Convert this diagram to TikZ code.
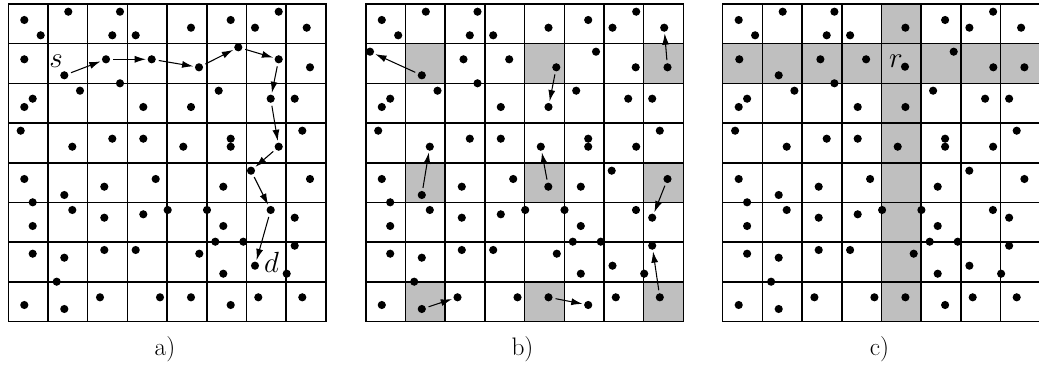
\documentclass[tikz,border=0pt]{standalone}
\usetikzlibrary{arrows.meta}
\tikzset{
  dot/.style={circle, fill=black, inner sep=0pt, minimum size=5.8pt},
  gridline/.style={line width=1.05pt, line cap=rect},
  shadecell/.style={fill=black!25, draw=none},
  arr/.style={line width=0.75pt, -{Latex[length=8pt,width=5pt]}, shorten <=2pt, shorten >=1pt},
  lab/.style={font=\fontsize{18}{20}\selectfont, inner sep=0pt},
  mlab/.style={font=\fontsize{20}{22}\selectfont, inner sep=0pt}
}
\newcommand\drawgrid{%
  \foreach \i in {0,...,8}{%
    \draw[gridline] (8.3+39.7*\i,4) -- (8.3+39.7*\i,321.6);
    \draw[gridline] (8.3,4+39.7*\i) -- (325.9,4+39.7*\i);
  }}
\newcommand\shadecellat[2]{\fill[shadecell] (8.3+39.7*#1,4+39.7*#2) rectangle ++(39.7,39.7);}
\newcommand\putdots[1]{%
  \foreach \x/\y/\n in {
    24.3/20/p00, 40.7/35.3/p01, 68.3/11.7/p02, 120/11.7/p03, 112.3/35.3/p04, 135.7/35.3/p05,
    191/27.7/p06, 230.7/20/p07, 255/27.7/p08, 278.7/11.7/p09, 306.7/27.7/p0x,
    64.3/75.3/p10, 106/59.3/p11, 120/83.3/p12, 151.7/59.3/p13, 310/67.3/p14,
    32.7/98.7/p20, 24.3/107/p21, 80/90.7/p22, 143.3/107/p23, 191/107/p24, 218.7/90.7/p25,
    270.7/98.7/p26, 294.7/98.7/p27,
    20.7/130.7/p30, 72.3/146.7/p31, 112.3/138.7/p32, 143.3/138.7/p33, 183.3/146.7/p34,
    230.7/138.7/p35, 230.7/146.7/p36, 278.7/146.7/p37, 302.3/130.7/p38,
    24.3/179/p40, 64.3/195/p41, 104.3/186.7/p42, 155.7/179/p43, 223.3/186.7/p44, 310/179/p45,
    32.7/202.3/p46,
    72.3/210/p50, 32.7/226/p51, 104.3/217.7/p52, 143.3/214.3/p53, 167.7/210/p54, 207/210/p55,
    294.7/217.7/p56, 223.3/226/p57,
    32.7/253.7/p60, 64.3/257.7/p61, 104.3/250/p62, 135.7/250/p63, 199.3/253.7/p64,
    215.3/241.7/p65, 243.3/241.7/p66, 294.7/245.7/p67, 255/265.7/p68, 223.3/273.7/p69,
    286.7/273.7/p6x, 56.7/281.7/p6y,
    24.3/305/p70, 64.3/309/p71, 100/297.3/p72, 160/297.3/p73, 191/297.3/p74, 230.7/305/p75,
    258.3/297.3/p76, 302.3/297.3/p77}
  {\node[dot] (#1\n) at (\x,\y) {};}}
\begin{document}
\begin{tikzpicture}[x=0.025cm, y=-0.025cm]
\useasboundingbox (0,0) rectangle (1039,372);
% ---------------- a) ----------------
\begin{scope}
  \drawgrid
  \putdots{a}
  \node[dot] (a15) at (24.3,59.3) {};
  \node[dot] (a16) at (199,67.3) {};
  \node[dot] (a17) at (238.3,47.3) {};
  \node[dot] (a18) at (278.7,59.3) {};
  \node[dot] (a47) at (251,170.7) {};
  \node[dot] (a58) at (270.7,210) {};
  \draw[arr] (ap10) -- (ap11);
  \draw[arr] (ap11) -- (ap13);
  \draw[arr] (ap13) -- (a16);
  \draw[arr] (a16) -- (a17);
  \draw[arr] (a17) -- (a18);
  \draw[arr] (a18) -- (ap26);
  \draw[arr] (ap26) -- (ap37);
  \draw[arr] (ap37) -- (a47);
  \draw[arr] (a47) -- (a58);
  \draw[arr] (a58) -- (ap68);
  \node[mlab] (slab) at (56,61) {$s$};
  \node[mlab] (dlab) at (271.5,262) {$d$};
  \node[lab] (alab) at (165,349) {a)};
\end{scope}
% ---------------- b) ----------------
\begin{scope}[shift={(357.5,0)}]
  \foreach \c in {1,4,7}{\foreach \r in {1,4,7}{\shadecellat{\c}{\r}}}
  \drawgrid
  \putdots{b}
  \node[dot] (b15) at (12.5,51.7) {};
  \node[dot] (b16) at (198.8,67.3) {};
  \node[dot] (b17) at (238.5,51.7) {};
  \node[dot] (b18) at (278.2,67.3) {};
  \node[dot] (b47) at (254.2,170.7) {};
  \node[dot] (b48) at (190.8,186.7) {};
  \node[dot] (b58) at (278.5,210) {};
  \draw[arr] (bp10) -- (b15);
  \draw[arr] (b16) -- (bp24);
  \draw[arr] (bp14) -- (bp0x);
  \draw[arr] (bp41) -- (bp31);
  \draw[arr] (b48) -- (bp34);
  \draw[arr] (bp45) -- (bp56);
  \draw[arr] (bp71) -- (bp72);
  \draw[arr] (bp74) -- (bp75);
  \draw[arr] (bp77) -- (bp67);
  \node[lab] (blab) at (165,349) {b)};
\end{scope}
% ---------------- c) ----------------
\begin{scope}[shift={(714.4,0)}]
  \fill[shadecell] (8.3,43.7) rectangle (325.9,83.4);
  \fill[shadecell] (167.1,4) rectangle (206.8,321.6);
  \drawgrid
  \putdots{c}
  \node[dot] (c15) at (24.9,59.3) {};
  \node[dot] (c16) at (190.6,66.7) {};
  \node[dot] (c17) at (239.3,51.7) {};
  \node[dot] (c18) at (278.9,67.3) {};
  \node[dot] (c47) at (254.9,170.7) {};
  \node[dot] (c58) at (278.5,210) {};
  \node[mlab] (rlab) at (181.6,61.5) {$r$};
  \node[lab] (clab) at (165,349) {c)};
\end{scope}
\end{tikzpicture}
\end{document}
